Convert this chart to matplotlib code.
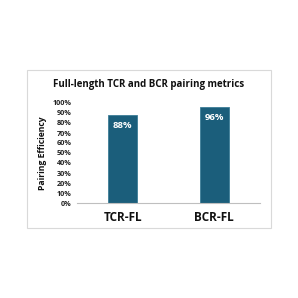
import matplotlib
matplotlib.use("Agg")
import matplotlib.pyplot as plt
from matplotlib.patches import Rectangle

# Données
categories = ["TCR-FL", "BCR-FL"]
efficiency = [0.88, 0.96]
yticks = [i / 10 for i in range(11)]
ytick_labels = [f"{int(t * 100)}%" for t in yticks]

plt.rcParams['font.family'] = ['Open Sans', 'DejaVu Sans']

fig = plt.figure(figsize=(2.98, 2.98), dpi=100)
fig.patch.set_facecolor("white")

# cadre gris clair autour du graphique
fig.patches.append(Rectangle((27 / 298, 1 - 228 / 298), 244 / 298, 158 / 298,
                             transform=fig.transFigure, fill=False,
                             edgecolor="#d9d9d9", linewidth=0.8))

ax = fig.add_axes([77 / 298, 1 - 203 / 298, 183 / 298, 100 / 298])
bars = ax.bar(range(len(categories)), efficiency, width=0.32,
              color="#1b5e7b", edgecolor="#3d7d98", linewidth=0.6)
ax.set_xlim(-0.5, 1.5)
ax.set_ylim(0, 1)
ax.set_yticks(yticks)
ax.set_yticklabels(ytick_labels, fontsize=5.2, fontweight="bold", color="#222222")
ax.set_xticks(range(len(categories)))
ax.set_xticklabels(categories, fontsize=8.5, fontweight="bold", color="#111111")
ax.tick_params(axis="both", length=0)
ax.tick_params(axis="x", pad=6)
ax.tick_params(axis="y", pad=4)
for side in ["top", "right", "left"]:
    ax.spines[side].set_visible(False)
ax.spines["bottom"].set_color("#bfbfbf")
ax.spines["bottom"].set_linewidth(0.8)

ax.set_ylabel("Pairing Efficiency", fontsize=6.2, fontweight="bold", color="#111111", labelpad=4)

for b, v in zip(bars, efficiency):
    ax.text(b.get_x() + b.get_width() / 2, v - 0.11, f"{int(round(v * 100))}%",
            ha="center", va="center", color="white", fontsize=6.8, fontweight="bold")

fig.text(149 / 298, 1 - 84 / 298, "Full-length TCR and BCR pairing metrics",
         ha="center", va="center", fontsize=7, fontweight="bold", color="#111111")

fig.savefig("out.png", dpi=100)
